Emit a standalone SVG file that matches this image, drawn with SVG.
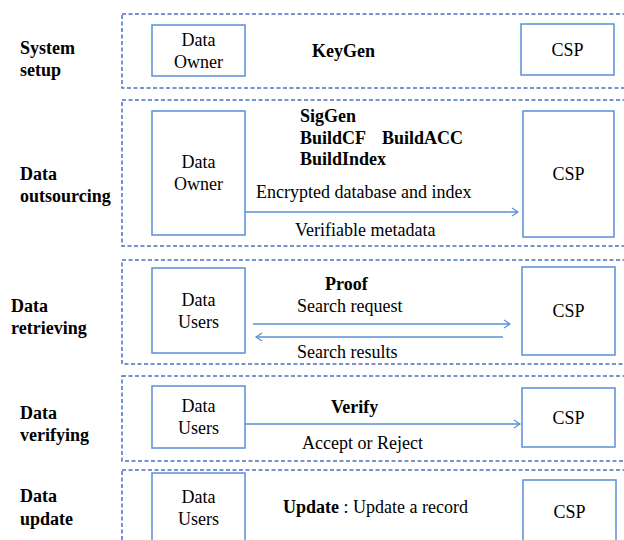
<svg xmlns="http://www.w3.org/2000/svg" width="624" height="540" viewBox="0 0 624 540">
<defs>
<marker id="arr" markerUnits="userSpaceOnUse" markerWidth="12" markerHeight="12" refX="9" refY="6" orient="auto">
<path d="M3,2 L9,6 L3,10" fill="none" stroke="#5b8fd6" stroke-width="1.2"/>
</marker>
</defs>
<style>
text{font-family:"Liberation Serif","Times New Roman",serif;font-size:18px;fill:#000}
.b{font-weight:bold}
.m{text-anchor:middle}
.stage{fill:none;stroke:#4a6fc4;stroke-width:1.5;stroke-dasharray:4 2.5}
.node{fill:#fff;stroke:#5b8fd6;stroke-width:1.5}
.conn{stroke:#5b8fd6;stroke-width:1.3;fill:none;marker-end:url(#arr)}
</style>
<rect width="624" height="540" fill="#fff"/>

<g id="stages">
<rect class="stage" x="122" y="14" width="520" height="74"/>
<rect class="stage" x="122" y="100" width="520" height="146"/>
<rect class="stage" x="122" y="260" width="520" height="104"/>
<rect class="stage" x="122" y="376" width="520" height="85"/>
<rect class="stage" x="122" y="470" width="520" height="100"/>
</g>

<g id="labels">
<text class="b" x="20" y="54">System</text>
<text class="b" x="20" y="76">setup</text>
<text class="b" x="20" y="180">Data</text>
<text class="b" x="20" y="202">outsourcing</text>
<text class="b" x="11" y="312">Data</text>
<text class="b" x="11" y="334">retrieving</text>
<text class="b" x="20" y="419">Data</text>
<text class="b" x="20" y="441">verifying</text>
<text class="b" x="20" y="502">Data</text>
<text class="b" x="20" y="525">update</text>
</g>

<g id="owner1"><rect class="node" x="152" y="25" width="93" height="51"/>
<text class="m" x="198.5" y="46">Data</text><text class="m" x="198.5" y="68">Owner</text></g>
<g id="csp1"><rect class="node" x="521" y="24" width="93" height="51"/>
<text class="m" x="567.5" y="56">CSP</text></g>

<g id="owner2"><rect class="node" x="152" y="111" width="93" height="124"/>
<text class="m" x="198.5" y="168">Data</text><text class="m" x="198.5" y="190">Owner</text></g>
<g id="csp2"><rect class="node" x="523" y="111" width="91" height="126"/>
<text class="m" x="568.5" y="180">CSP</text></g>

<g id="users3"><rect class="node" x="152" y="268" width="93" height="85"/>
<text class="m" x="198.5" y="306">Data</text><text class="m" x="198.5" y="328">Users</text></g>
<g id="csp3"><rect class="node" x="522" y="267" width="93" height="88"/>
<text class="m" x="568.5" y="317">CSP</text></g>

<g id="users4"><rect class="node" x="152" y="386" width="93" height="62"/>
<text class="m" x="198.5" y="412">Data</text><text class="m" x="198.5" y="434">Users</text></g>
<g id="csp4"><rect class="node" x="522" y="388" width="93" height="59"/>
<text class="m" x="568.5" y="424">CSP</text></g>

<g id="users5"><rect class="node" x="152" y="473" width="93" height="80"/>
<text class="m" x="198.5" y="503">Data</text><text class="m" x="198.5" y="525">Users</text></g>
<g id="csp5"><rect class="node" x="523" y="480" width="93" height="80"/>
<text class="m" x="569.5" y="518">CSP</text></g>

<g id="ops">
<text class="b" x="312" y="57">KeyGen</text>
<text class="b" x="300" y="122">SigGen</text>
<text class="b" x="300" y="144">BuildCF</text>
<text class="b" x="382" y="144">BuildACC</text>
<text class="b" x="300" y="165">BuildIndex</text>
<text x="256" y="198">Encrypted database and index</text>
<text x="295" y="236">Verifiable metadata</text>
<text class="b" x="325" y="290">Proof</text>
<text x="297" y="312">Search request</text>
<text x="297" y="358">Search results</text>
<text class="b" x="331" y="413">Verify</text>
<text x="302" y="449">Accept or Reject</text>
<text x="283" y="513"><tspan class="b">Update</tspan> : Update a record</text>
</g>

<g id="connectors">
<line class="conn" x1="245" y1="212" x2="518" y2="212"/>
<line class="conn" x1="253" y1="324" x2="510" y2="324"/>
<line class="conn" x1="503" y1="337" x2="256" y2="337"/>
<line class="conn" x1="245" y1="424" x2="520" y2="424"/>
</g>
</svg>
